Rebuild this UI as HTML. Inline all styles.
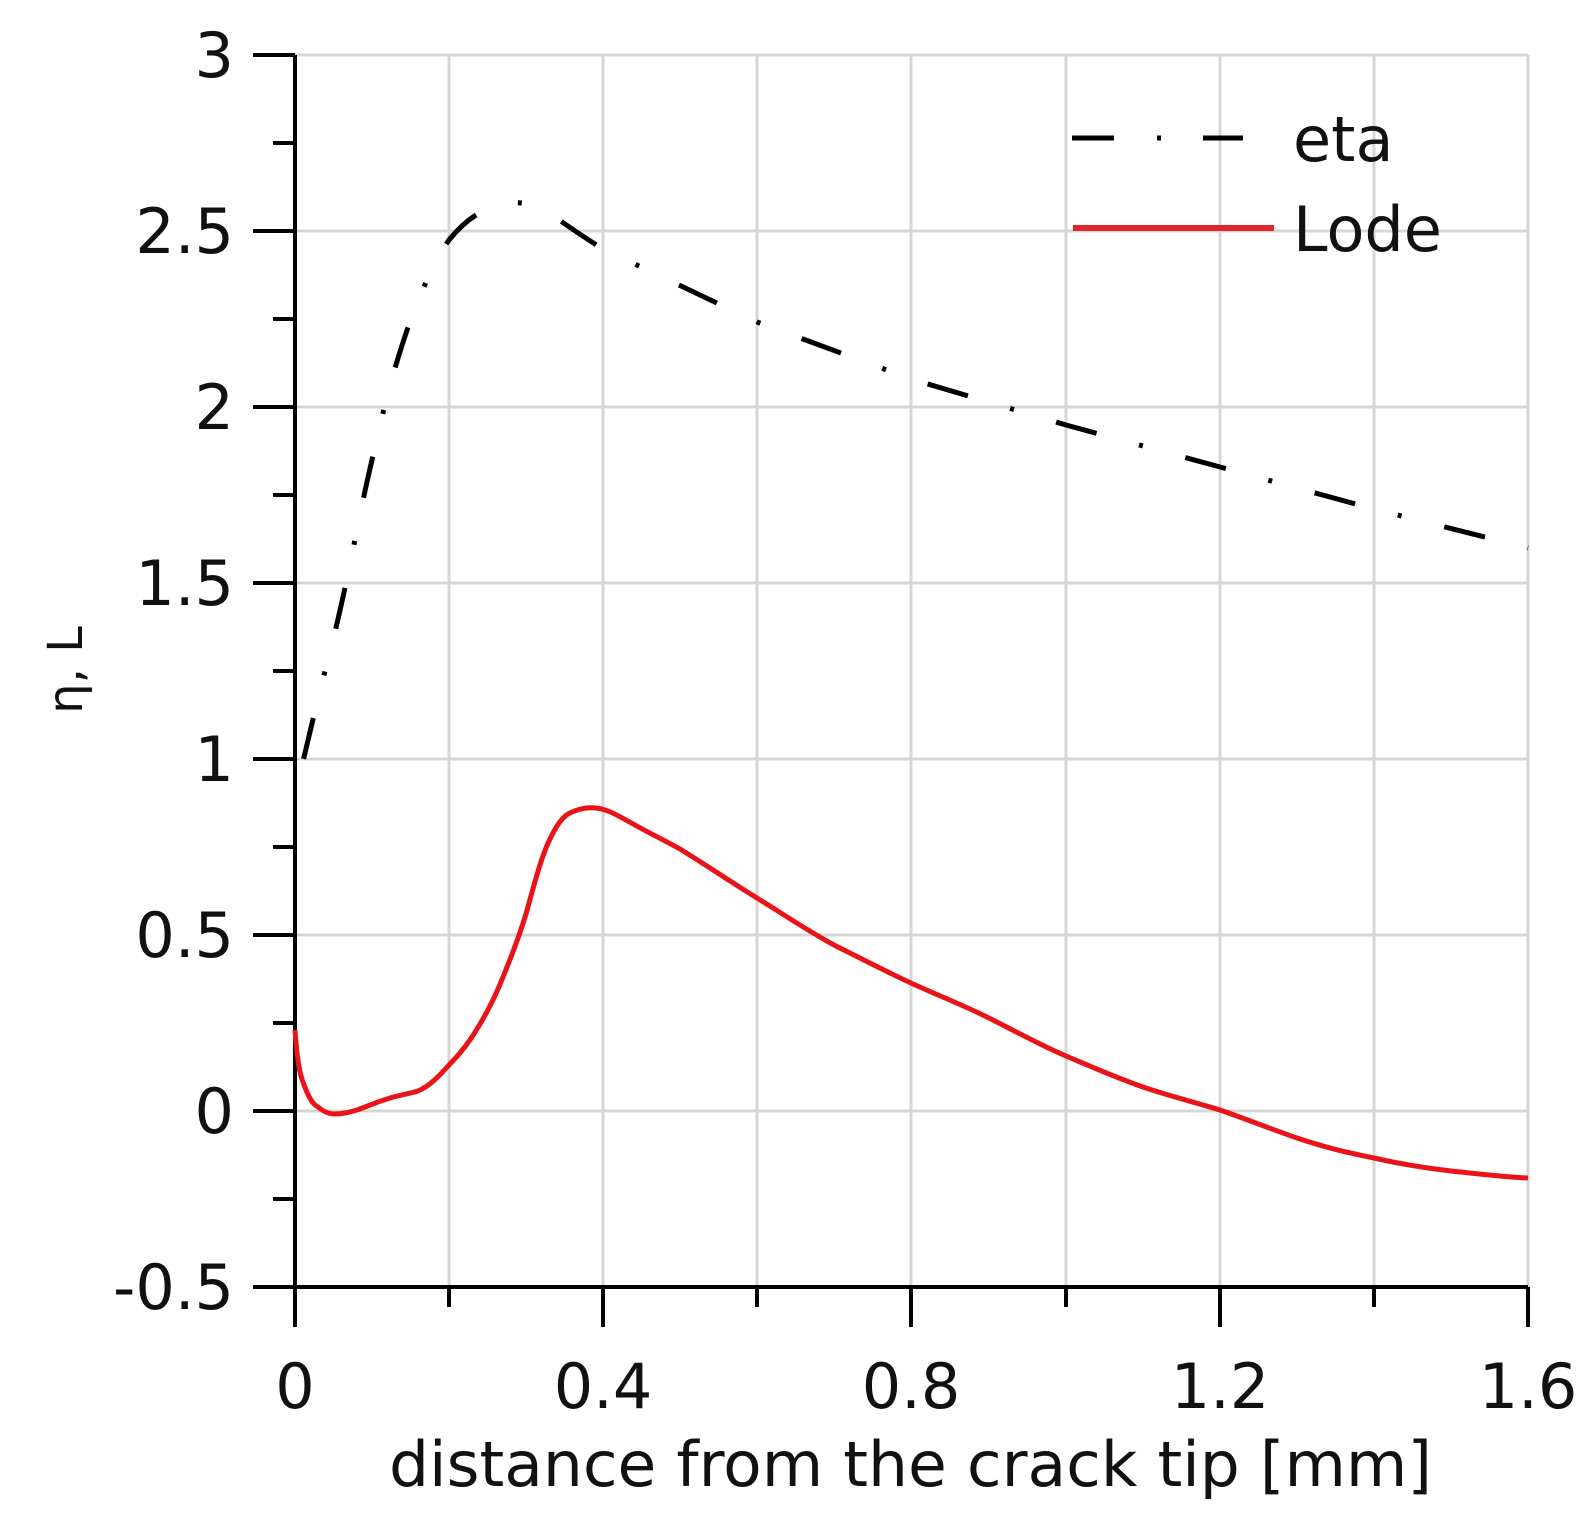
<!DOCTYPE html>
<html><head><meta charset="utf-8"><style>
html,body{margin:0;padding:0;background:#fff;}
svg{display:block;}
text{font-family:"DejaVu Sans","Liberation Sans",sans-serif;fill:#111;}
</style></head><body>
<svg width="1589" height="1536" viewBox="0 0 1589 1536" xmlns="http://www.w3.org/2000/svg">
<g stroke="#d6d6d6" stroke-width="3">
<line x1="449" y1="55" x2="449" y2="1287"/><line x1="603" y1="55" x2="603" y2="1287"/>
<line x1="757" y1="55" x2="757" y2="1287"/><line x1="911" y1="55" x2="911" y2="1287"/>
<line x1="1066" y1="55" x2="1066" y2="1287"/><line x1="1220" y1="55" x2="1220" y2="1287"/>
<line x1="1374" y1="55" x2="1374" y2="1287"/><line x1="1528" y1="55" x2="1528" y2="1287"/>
<line x1="295" y1="55" x2="1528" y2="55"/><line x1="295" y1="231" x2="1528" y2="231"/>
<line x1="295" y1="407" x2="1528" y2="407"/><line x1="295" y1="583" x2="1528" y2="583"/>
<line x1="295" y1="759" x2="1528" y2="759"/><line x1="295" y1="935" x2="1528" y2="935"/>
<line x1="295" y1="1111" x2="1528" y2="1111"/>
</g>
<g stroke="#000" stroke-width="4">
<line x1="295" y1="55" x2="295" y2="1327"/>
<line x1="253" y1="1287" x2="1528" y2="1287"/>
<line x1="253" y1="55" x2="295" y2="55"/><line x1="253" y1="231" x2="295" y2="231"/>
<line x1="253" y1="407" x2="295" y2="407"/><line x1="253" y1="583" x2="295" y2="583"/>
<line x1="253" y1="759" x2="295" y2="759"/><line x1="253" y1="935" x2="295" y2="935"/>
<line x1="253" y1="1111" x2="295" y2="1111"/>
<line x1="273" y1="143" x2="295" y2="143"/><line x1="273" y1="319" x2="295" y2="319"/>
<line x1="273" y1="495" x2="295" y2="495"/><line x1="273" y1="671" x2="295" y2="671"/>
<line x1="273" y1="847" x2="295" y2="847"/><line x1="273" y1="1023" x2="295" y2="1023"/>
<line x1="273" y1="1199" x2="295" y2="1199"/>
<line x1="603" y1="1287" x2="603" y2="1327"/><line x1="911" y1="1287" x2="911" y2="1327"/>
<line x1="1220" y1="1287" x2="1220" y2="1327"/><line x1="1528" y1="1287" x2="1528" y2="1327"/>
<line x1="449" y1="1287" x2="449" y2="1307"/><line x1="757" y1="1287" x2="757" y2="1307"/>
<line x1="1066" y1="1287" x2="1066" y2="1307"/><line x1="1374" y1="1287" x2="1374" y2="1307"/>
</g>
<g font-size="62" text-anchor="end">
<text x="234" y="77">3</text><text x="234" y="253">2.5</text><text x="234" y="429">2</text>
<text x="234" y="605">1.5</text><text x="234" y="781">1</text><text x="234" y="957">0.5</text>
<text x="234" y="1133">0</text><text x="234" y="1309">-0.5</text>
</g>
<g font-size="62" text-anchor="middle">
<text x="295" y="1408">0</text><text x="603" y="1408">0.4</text><text x="911" y="1408">0.8</text>
<text x="1220" y="1408">1.2</text><text x="1528" y="1408">1.6</text>
</g>
<text x="389" y="1486" font-size="62" textLength="1043" lengthAdjust="spacingAndGlyphs">distance from the crack tip [mm]</text>
<text transform="translate(82,670) rotate(-90)" font-size="48" text-anchor="middle">η, L</text>
<path fill="none" stroke="#000" stroke-width="5" stroke-dasharray="42 44 4 44" stroke-dashoffset="-40"
d="M295,798 C305,750 320,690 334,636 C350,570 360,510 372,460 C385,400 398,355 411,319 C424,285 436,258 449,240 C462,224 475,214 488,209 C500,204 512,202 522,203 C540,206 552,215 565,224 C578,233 590,241 603,249 L757,322 L911,379 L1066,425 L1220,467 L1374,509 L1528,548"/>
<path fill="none" stroke="#e8141a" stroke-width="5" stroke-linejoin="round"
d="M295,1030 C297,1060 300,1075 303,1082 C308,1096 312,1104 318,1107 C324,1112 329,1114 334,1114 C343,1114 350,1112 357,1110 C368,1106 377,1102 387,1099 C398,1095 409,1094 418,1091 C430,1086 440,1075 449,1065 C462,1052 471,1040 480,1024 C489,1009 496,995 503,977 C512,955 519,937 526,914 C534,885 541,858 549,841 C556,826 563,815 572,812 C581,808 588,807 596,808 C606,809 615,814 626,820 C645,831 662,839 680,849 C706,865 731,882 757,898 C783,914 808,931 834,945 C860,958 885,971 911,983 C937,995 963,1005 989,1018 C1015,1031 1040,1045 1066,1056 C1092,1067 1117,1078 1143,1087 C1169,1096 1194,1102 1220,1110 C1246,1119 1271,1129 1297,1138 C1330,1149 1350,1153 1374,1158 C1400,1164 1425,1168 1451,1171 C1480,1174 1505,1177 1528,1178"/>
<g stroke="#000" stroke-width="5">
<line x1="1072" y1="138" x2="1114" y2="138"/><line x1="1157" y1="138" x2="1161" y2="138"/>
<line x1="1203" y1="138" x2="1243" y2="138"/>
</g>
<line x1="1073" y1="228" x2="1274" y2="228" stroke="#e0262b" stroke-width="6"/>
<text x="1293" y="161" font-size="62">eta</text>
<text x="1293" y="251" font-size="62">Lode</text>
</svg>
</body></html>
